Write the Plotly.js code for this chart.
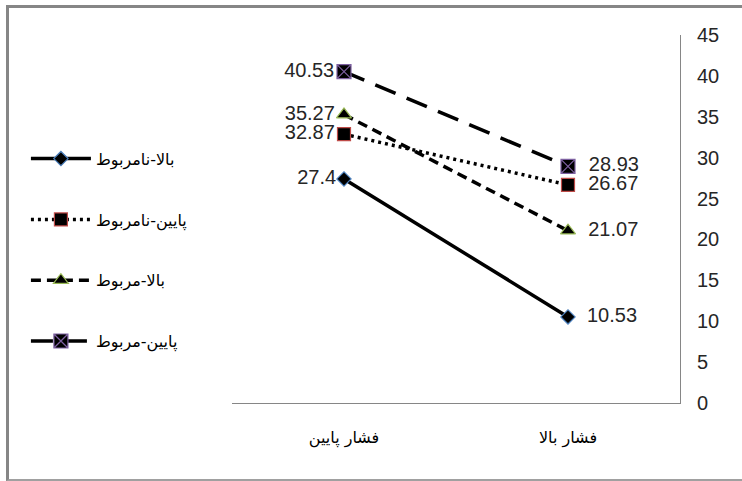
<!DOCTYPE html>
<html>
<head>
<meta charset="utf-8">
<script src="https://cdn.plot.ly/plotly-3.0.1.min.js"></script>
<style>
html,body{margin:0;padding:0;background:#fff;overflow:hidden;}
#chart{width:742px;height:481px;position:absolute;left:0;top:0;}
#frame{position:absolute;left:6px;top:5px;width:760px;height:471px;border-left:3px solid #868686;border-top:3px solid #868686;border-bottom:2px solid #a0a0a0;pointer-events:none;}
</style>
</head>
<body>
<div id="chart"></div>
<div id="frame"></div>
<script>
const categories = ['فشار پایین', 'فشار بالا'];
const seriesNames = ['بالا-نامربوط', 'پایین-نامربوط', 'بالا-مربوط', 'پایین-مربوط'];
const s1 = [27.4, 10.53];
const s2 = [32.87, 26.67];
const s3 = [35.27, 21.07];
const s4 = [40.53, 28.93];
const yTicks = [0, 5, 10, 15, 20, 25, 30, 35, 40, 45];

const vals = [s1, s2, s3, s4];
const styles = [
  {dash: 'solid', symbol: 'diamond', size: 11, edge: '#4a7ebb'},
  {dash: '3px,4px', symbol: 'square', size: 13, edge: '#be4b48'},
  {dash: '10px,6px', symbol: 'triangle-up', size: 13, edge: '#98b954'},
  {dash: '22px,12px', symbol: 'square-x', size: 14, edge: '#7d60a0'}
];
const NB = '\u00a0';
const traces = vals.map((v, i) => ({
  type: 'scatter',
  mode: 'lines+markers+text',
  x: categories,
  y: v,
  name: seriesNames[i],
  legendgroup: 'g' + i,
  text: [String(v[0]), NB + NB + String(v[1])],
  textposition: ['middle left', 'middle right'],
  textfont: {family: 'Liberation Sans, Arial, sans-serif', size: 20, color: '#262626'},
  line: {color: '#000000', width: 3.5, dash: styles[i].dash},
  marker: {symbol: styles[i].symbol, size: styles[i].size, color: '#000000', line: {color: styles[i].edge, width: 1.2}},
  cliponaxis: false,
  hoverinfo: 'x+y+name'
}));

const layout = {
  width: 742, height: 481,
  margin: {l: 232, r: 62, t: 35, b: 78},
  paper_bgcolor: '#ffffff',
  plot_bgcolor: '#ffffff',
  showlegend: true,
  legend: {
    x: -0.46, xanchor: 'left', y: 0.71, yanchor: 'top',
    font: {family: 'DejaVu Sans, sans-serif', size: 16, color: '#000000'},
    traceorder: 'grouped', tracegroupgap: 37,
    bgcolor: 'rgba(0,0,0,0)', itemwidth: 60
  },
  xaxis: {
    type: 'category',
    range: [-0.5, 1.5],
    showline: true, linecolor: '#868686', linewidth: 1,
    showgrid: false, zeroline: false, ticks: '',
    ticklabelstandoff: 20,
    tickfont: {family: 'DejaVu Sans, sans-serif', size: 16, color: '#000000'}
  },
  yaxis: {
    side: 'right',
    range: [0, 45],
    tickvals: yTicks,
    ticktext: yTicks.map(String),
    showline: true, linecolor: '#868686', linewidth: 1,
    showgrid: false, zeroline: false, ticks: '',
    ticklabelstandoff: 12,
    tickfont: {family: 'Liberation Sans, Arial, sans-serif', size: 20, color: '#262626'}
  }
};
Plotly.newPlot('chart', traces, layout, {displayModeBar: false, staticPlot: true});
</script>
</body>
</html>
